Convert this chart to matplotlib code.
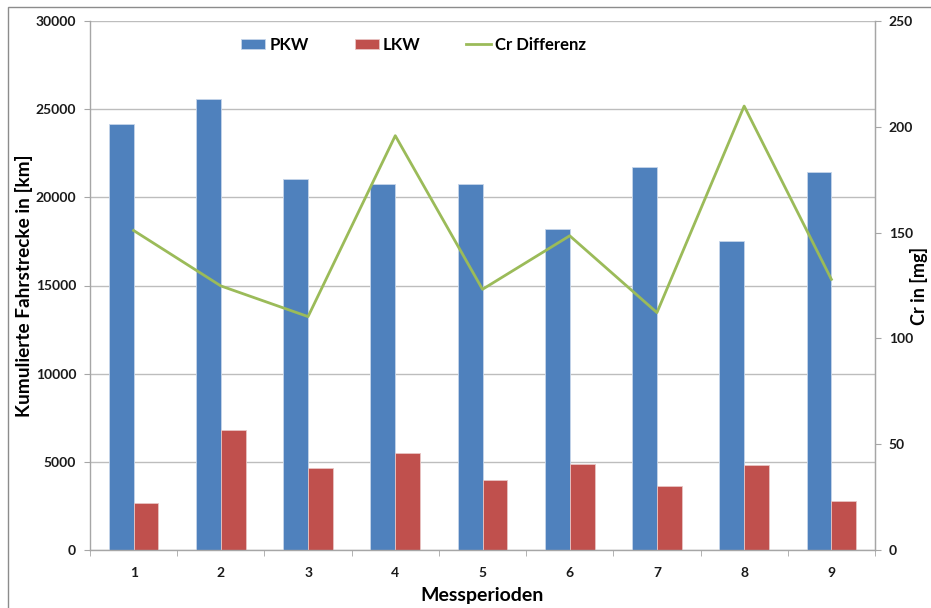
import matplotlib
matplotlib.use("Agg")
import matplotlib.pyplot as plt
from matplotlib.patches import Rectangle
import numpy as np

plt.rcParams['font.family'] = ['Lato', 'DejaVu Sans']

perioden = ['1', '2', '3', '4', '5', '6', '7', '8', '9']
pkw_km = [24150, 25580, 21030, 20760, 20760, 18200, 21700, 17520, 21420]
lkw_km = [2670, 6810, 4630, 5500, 3960, 4880, 3610, 4800, 2760]
cr_diff = [151, 124.8, 110.3, 195.8, 123.2, 148.5, 112.2, 209.8, 127.9]

blue = '#4F81BD'
red = '#C0504D'
green = '#9BBB59'
axis_grey = '#A6A6A6'

fig = plt.figure(figsize=(9.31, 6.08), dpi=100)
W, H = 931, 608
ax = fig.add_axes([90 / W, (H - 550) / H, (875 - 90) / W, (550 - 21) / H])

x = np.arange(1, len(perioden) + 1)
bw = 0.285
ax.bar(x - bw / 2, pkw_km, bw, color=blue, edgecolor='#c6d5ea', linewidth=0.6,
       label='PKW', zorder=2)
ax.bar(x + bw / 2, lkw_km, bw, color=red, edgecolor='#e8c4c3', linewidth=0.6,
       label='LKW', zorder=2)

ax.set_xlim(0.5, len(perioden) + 0.5)
ax.set_ylim(0, 30000)
ax.set_yticks(np.arange(0, 30001, 5000))
ax.set_xticks(x)
ax.set_xticklabels(perioden)
ax.set_xticks(np.arange(0.5, len(perioden) + 1, 1), minor=True)
ax.tick_params(axis='x', which='major', length=0, pad=12)
ax.tick_params(axis='x', which='minor', length=4.5, color=axis_grey, direction='out')
ax.tick_params(axis='y', length=4, color=axis_grey, direction='out', pad=6)
ax.grid(axis='y', color='#BDBDBD', linewidth=1.0, zorder=0)
ax.set_axisbelow(True)
ax.spines['top'].set_visible(False)
for s in ['left', 'bottom', 'right']:
    ax.spines[s].set_color(axis_grey)
    ax.spines[s].set_linewidth(1.0)

for lab in ax.get_xticklabels() + ax.get_yticklabels():
    lab.set_fontsize(10)
    lab.set_fontweight('bold')
    lab.set_color('#1a1a1a')

ax2 = ax.twinx()
ax2.plot(x, cr_diff, color=green, linewidth=2.0, label='Cr Differenz', zorder=3)
ax2.set_ylim(0, 250)
ax2.set_yticks(np.arange(0, 251, 50))
ax2.tick_params(axis='y', length=4, color=axis_grey, direction='out', pad=6)
for s in ['top', 'left', 'bottom']:
    ax2.spines[s].set_visible(False)
ax2.spines['right'].set_color(axis_grey)
for lab in ax2.get_yticklabels():
    lab.set_fontsize(10)
    lab.set_fontweight('bold')
    lab.set_color('#1a1a1a')

ax.set_xlabel('Messperioden', fontsize=14, fontweight='bold', labelpad=6)
yc = (H - 286) / H
fig.text(15 / W, yc, 'Kumulierte Fahrstrecke in [km]', rotation=90, fontsize=13.7,
         fontweight='bold', ha='left', va='center')
fig.text(910 / W, yc, 'Cr in [mg]', rotation=90, fontsize=13,
         fontweight='bold', ha='left', va='center')

h1, l1 = ax.get_legend_handles_labels()
h2, l2 = ax2.get_legend_handles_labels()
leg = ax.legend(h1 + h2, l1 + l2, loc='center', bbox_to_anchor=(0.412, 0.955),
                ncol=3, frameon=False, fontsize=12, columnspacing=2.75,
                handlelength=1.45, handleheight=0.6, handletextpad=0.25,
                borderpad=0, borderaxespad=0)
for t in leg.get_texts():
    t.set_fontweight('bold')

fig.patches.append(Rectangle((8 / W, -0.05), 1.2, (H - 7) / H + 0.05,
                             transform=fig.transFigure, fill=False,
                             edgecolor='#8c8c8c', linewidth=1.0))

fig.savefig('out.png', dpi=100)
